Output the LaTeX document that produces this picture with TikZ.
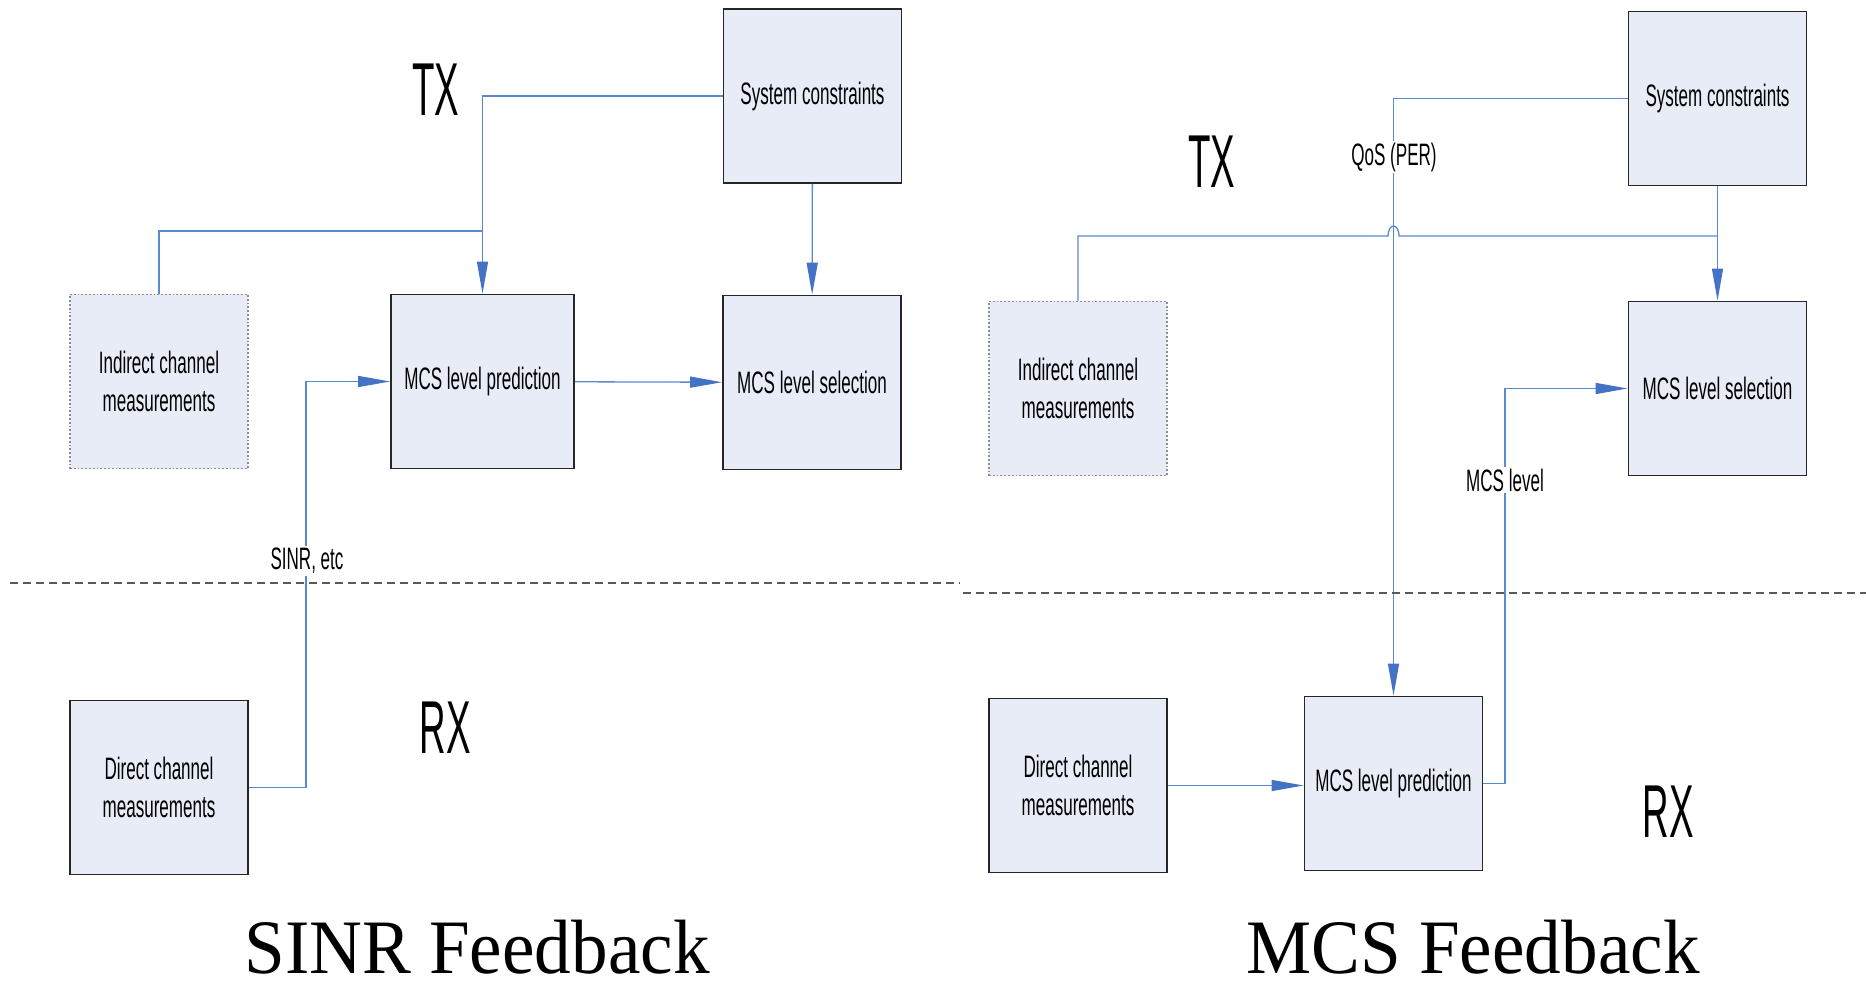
\documentclass[tikz,border=0pt]{standalone}
\usepackage{fontspec}
\setmainfont{Liberation Serif}
\newfontfamily\boxfont[FakeStretch=0.55]{Liberation Sans}
\newfontfamily\sidefont[FakeStretch=0.49]{Liberation Sans}
\newfontfamily\titlefont[FakeStretch=0.95]{Liberation Serif}
\usetikzlibrary{calc}
\usetikzlibrary{arrows.meta}
\definecolor{boxfill}{RGB}{231,236,246}
\definecolor{wire}{RGB}{91,137,205}
\definecolor{tipfill}{RGB}{68,114,196}
\tikzset{
  blk/.style={draw=black!85, line width=0.9pt, fill=boxfill, inner sep=0pt,
    minimum width=17.8*\u, minimum height=17.4*\u, align=center,
    font=\boxfont\fontsize{15.5}{19}\selectfont},
  ind/.style={blk, draw=black!45, densely dotted},
  wire/.style={draw=wire, line width=0.65pt},
  arr/.style={wire, -{Triangle[length=16pt,width=5.5pt,color=tipfill,fill=tipfill]}},
  lbl/.style={fill=white, inner sep=1pt, font=\boxfont\fontsize{15.5}{19}\selectfont},
  side/.style={font=\sidefont\fontsize{37.5}{40}\selectfont},
  ttl/.style={anchor=base, inner sep=0pt, font=\titlefont\fontsize{38.5}{42}\selectfont},
  sep/.style={draw=black!65, line width=0.6pt, dash pattern=on 4pt off 2.5pt}
}

\begin{document}
\begin{tikzpicture}
\def\u{5pt}
\useasboundingbox (0,0) rectangle (186.6*\u, -98.8*\u);

% SINR feedback
\node[blk] (sc1) at (81.25*\u, -9.6*\u) {System constraints};
\node[blk, minimum width=18.3*\u] (mp1) at (48.25*\u, -38.15*\u) {MCS level prediction};
\node[blk] (ms1) at (81.2*\u, -38.25*\u) {MCS level selection};
\node[ind] (ic1) at (15.9*\u, -38.15*\u) {Indirect channel\\measurements};
\node[blk] (dc1) at (15.9*\u, -78.75*\u) {Direct channel\\measurements};
\node[side] (tx1) at (43.6*\u, -9.0*\u) {TX};
\node[side] (rx1) at (44.5*\u, -72.8*\u) {RX};
\node[ttl] (t1) at (47.7*\u, -97.3*\u) {SINR Feedback};
\coordinate (j1) at (48.25*\u, -23.1*\u);
\coordinate (k1) at (30.6*\u, -60*\u);

\draw[arr] (sc1.west) -| (mp1.north);
\draw[wire] (ic1.north) |- (j1);
\draw[arr] (sc1) -- (ms1);
\draw[arr] (mp1) -- (ms1);
\draw[arr] (dc1.east) -| (k1) |- (mp1.west);
\node[lbl] (lb1) at (30.7*\u, -56.1*\u) {SINR, etc};

% MCS feedback
\node[blk] (sc2) at (171.75*\u, -9.85*\u) {System constraints};
\node[blk] (ms2) at (171.75*\u, -38.85*\u) {MCS level selection};
\node[ind] (ic2) at (107.8*\u, -38.85*\u) {Indirect channel\\measurements};
\node[blk] (mp2) at (139.35*\u, -78.35*\u) {MCS level prediction};
\node[blk] (dc2) at (107.8*\u, -78.55*\u) {Direct channel\\measurements};
\node[side] (tx2) at (121.2*\u, -16.2*\u) {TX};
\node[side] (rx2) at (166.8*\u, -81.2*\u) {RX};
\node[ttl] (t2) at (147.3*\u, -97.3*\u) {MCS Feedback};
\coordinate (h2) at (138.8*\u, -23.6*\u);
\coordinate (j2) at (sc2.south |- h2);
\coordinate (k2) at (150.5*\u, -60*\u);

\draw[arr] (sc2.west) -| (mp2.north);
\draw[wire] (ic2.north) |- (h2) arc[start angle=180, end angle=0, x radius=0.55*\u, y radius=1*\u] -- (j2);
\draw[arr] (sc2) -- (ms2);
\draw[arr] (mp2.east) -| (k2) |- (ms2.west);
\draw[arr] (dc2.east) -- (dc2.east -| mp2.west);
\node[lbl] (lb2) at (139.4*\u, -15.7*\u) {QoS (PER)};
\node[lbl] (lb3) at (150.5*\u, -48.0*\u) {MCS level};

% TX / RX split
\draw[sep] (1.0*\u, -58.3*\u) -- (96.0*\u, -58.3*\u);
\draw[sep] (96.3*\u, -59.3*\u) -- (186.6*\u, -59.3*\u);
\end{tikzpicture}
\end{document}
